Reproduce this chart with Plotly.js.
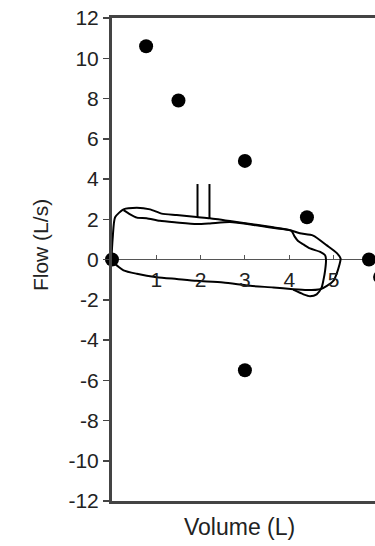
<!DOCTYPE html>
<html><head><meta charset="utf-8">
<script src="https://cdn.plot.ly/plotly-3.0.1.min.js"></script>
<style>html,body{margin:0;padding:0;background:#fff;overflow:hidden;}#wrap{width:375px;height:546px;overflow:hidden;}#c{width:392px;height:546px;}</style>
</head><body><div id="wrap"><div id="c"></div></div>
<script>
// Measured points (Volume L, Flow L/s)
const pointsX = [0, 0.77, 1.5, 3.0, 4.4, 5.8, 3.0, 6.05];
const pointsY = [0, 10.6, 7.9, 4.9, 2.1, 0, -5.5, -0.87];

// Loop A (outer breath)
const loopAX = [0, 0.02, 0.07, 0.26, 0.56, 0.86, 1.12, 1.46, 1.91, 2.21, 2.89, 3.64, 4.02, 4.24, 4.54, 4.85, 5.07, 5.16, 5.13, 5.07, 5.0, 4.85, 4.7, 4.4, 4.09, 3.64, 3.12, 2.51, 1.91, 1.46, 1.01, 0.56, 0.26, 0.06, 0];
const loopAY = [0, 1.2, 2.1, 2.49, 2.57, 2.49, 2.28, 2.21, 2.11, 2.05, 1.84, 1.6, 1.46, 1.3, 1.19, 0.7, 0.33, 0.05, -0.29, -0.71, -1.05, -1.31, -1.48, -1.52, -1.48, -1.39, -1.31, -1.14, -1.06, -0.97, -0.88, -0.71, -0.54, -0.2, 0];

// Loop B (inner breath)
const loopBX = [0.26, 0.41, 0.56, 0.78, 1.08, 1.46, 1.91, 2.21, 2.66, 3.2, 3.7, 4.05, 4.12, 4.2, 4.32, 4.47, 4.7, 4.81, 4.83, 4.81, 4.77, 4.73, 4.62, 4.47, 4.32, 4.09];
const loopBY = [2.45, 2.24, 2.08, 2.05, 1.92, 1.84, 1.76, 1.79, 1.86, 1.72, 1.55, 1.42, 1.15, 0.92, 0.75, 0.55, 0.38, 0.21, 0.0, -0.55, -1.05, -1.4, -1.73, -1.82, -1.73, -1.5];

// Two vertical marker lines
const markX = [1.93, 1.93, null, 2.2, 2.2];
const markY = [3.75, 2.11, null, 3.75, 2.05];

const yTickVals = [-12, -10, -8, -6, -4, -2, 0, 2, 4, 6, 8, 10, 12];
const yTickText = ["-12", "-10", "-8", "-6", "-4", "-2", "0", "2", "4", "6", "8", "10", "12"];
const xTickVals = [1, 2, 3, 4, 5];
const xTickText = ["1", "2", "3", "4", "5"];

const FONT = "Liberation Sans, Arial, sans-serif";
const xRange = [0, 6.32];

const traces = [
  {x: loopAX, y: loopAY, mode: 'lines', line: {color: '#000', width: 2, shape: 'spline', smoothing: 0.6}, hoverinfo: 'skip'},
  {x: loopBX, y: loopBY, mode: 'lines', line: {color: '#000', width: 2, shape: 'spline', smoothing: 0.6}, hoverinfo: 'skip'},
  {x: markX, y: markY, xaxis: 'x2', mode: 'lines', line: {color: '#000', width: 2}, hoverinfo: 'skip'},
  {x: pointsX, y: pointsY, mode: 'markers', marker: {color: '#000', size: 14}, cliponaxis: false}
];

const layout = {
  width: 392, height: 546,
  margin: {l: 112, r: 0, t: 18, b: 45},
  paper_bgcolor: '#fff', plot_bgcolor: '#fff',
  showlegend: false,
  font: {family: FONT, size: 19, color: '#222'},
  xaxis: {
    range: xRange, showgrid: false, zeroline: false,
    showline: true, mirror: 'allticks', linecolor: '#444', linewidth: 3,
    showticklabels: false, ticks: ''
  },
  xaxis2: {
    range: xRange, overlaying: 'x', anchor: 'free', position: 0.5, side: 'bottom',
    showgrid: false, zeroline: false, showline: false,
    tickvals: xTickVals, ticktext: xTickText,
    ticks: 'inside', ticklen: 5, tickcolor: '#555', tickwidth: 1,
    ticklabelstandoff: 5,
    tickfont: {family: FONT, size: 21, color: '#222'}
  },
  yaxis: {
    range: [-12, 12], showgrid: false,
    zeroline: true, zerolinecolor: '#555', zerolinewidth: 1,
    showline: true, linecolor: '#444', linewidth: 3,
    tickvals: yTickVals, ticktext: yTickText,
    ticks: 'outside', ticklen: 6, tickcolor: '#444', tickwidth: 1.5,
    tickfont: {family: FONT, size: 21, color: '#222'}
  },
  annotations: [
    {text: 'Flow (L/s)', xref: 'paper', yref: 'paper', x: -0.257, y: 0.53, showarrow: false,
     textangle: -90, font: {family: FONT, size: 21, color: '#222'}, xanchor: 'center', yanchor: 'middle'},
    {text: 'Volume (L)', xref: 'paper', yref: 'paper', x: 0.457, y: -0.054, showarrow: false,
     font: {family: FONT, size: 23, color: '#222'}, xanchor: 'center', yanchor: 'middle'}
  ]
};

Plotly.newPlot('c', traces, layout, {staticPlot: true, displayModeBar: false});
</script>
</body></html>
